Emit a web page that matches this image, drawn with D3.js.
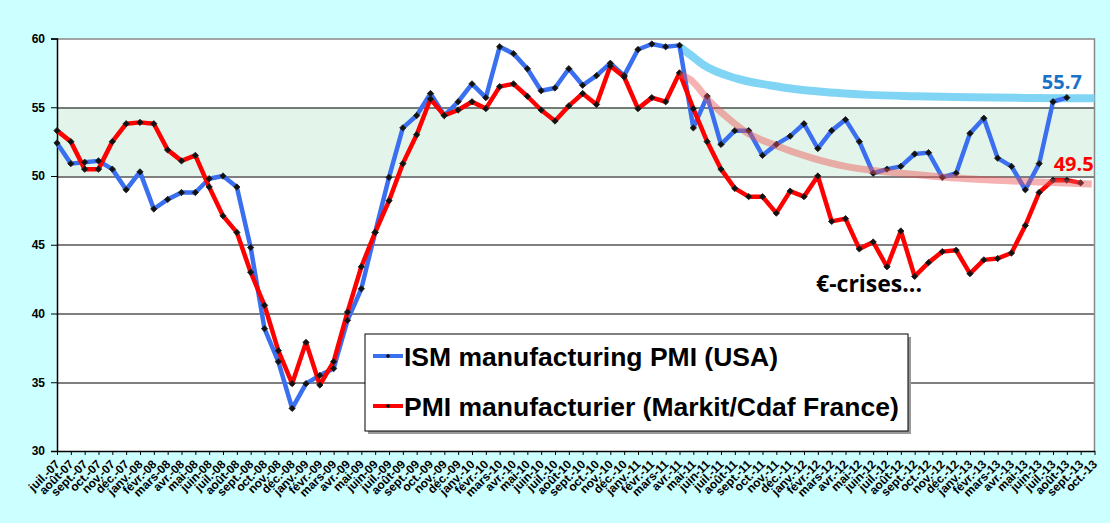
<!DOCTYPE html>
<html>
<head>
<meta charset="utf-8">
<script src="https://cdnjs.cloudflare.com/ajax/libs/d3/7.8.5/d3.min.js"></script>
<style>
  html, body { margin: 0; padding: 0; background: #ccffff; }
  svg { display: block; }
</style>
</head>
<body>
<div id="chart"></div>
<script>
// month labels, juil.-07 .. oct.-13
var monthNames = ["janv.", "févr.", "mars", "avr.", "mai", "juin",
                  "juil.", "août", "sept.", "oct.", "nov.", "déc."];
var months = [];
for (var k = 0; k < 76; k++) {
  var m = (6 + k) % 12, yr = 7 + Math.floor((6 + k) / 12);
  months.push(monthNames[m] + "-" + (yr < 10 ? "0" + yr : yr));
}

// ISM manufacturing PMI (USA), juil.-07 .. août-13
var ism = [52.4, 50.9, 51.0, 51.1, 50.5, 49.0, 50.3, 47.6, 48.3, 48.8, 48.8, 49.8,
           50.0, 49.2, 44.8, 38.9, 36.5, 33.1, 34.9, 35.5, 36.0, 39.5, 41.8, 45.9,
           49.9, 53.5, 54.4, 56.0, 54.4, 55.4, 56.7, 55.7, 59.4, 58.9, 57.8, 56.2,
           56.4, 57.8, 56.6, 57.3, 58.2, 57.3, 59.2, 59.6, 59.4, 59.5, 53.5, 55.8,
           52.3, 53.3, 53.3, 51.5, 52.3, 52.9, 53.8, 52.0, 53.3, 54.1, 52.5, 50.2,
           50.5, 50.7, 51.6, 51.7, 49.9, 50.2, 53.1, 54.2, 51.3, 50.7, 49.0, 50.9,
           55.4, 55.7];

// PMI manufacturier (Markit/Cdaf France), juil.-07 .. sept.-13
var pmiFr = [53.3, 52.5, 50.5, 50.5, 52.5, 53.8, 53.9, 53.8, 51.9, 51.1, 51.5, 49.2,
             47.1, 45.9, 43.0, 40.6, 37.3, 34.9, 37.9, 34.8, 36.5, 40.1, 43.4, 45.9,
             48.2, 50.9, 53.0, 55.6, 54.4, 54.8, 55.4, 54.9, 56.5, 56.7, 55.8, 54.8,
             54.0, 55.1, 56.0, 55.2, 58.0, 57.2, 54.9, 55.7, 55.4, 57.5, 54.9, 52.5,
             50.5, 49.1, 48.5, 48.5, 47.3, 48.9, 48.5, 50.0, 46.7, 46.9, 44.7, 45.2,
             43.4, 46.0, 42.7, 43.7, 44.5, 44.6, 42.9, 43.9, 44.0, 44.4, 46.4, 48.8,
             49.7, 49.7, 49.5];

// hand drawn trend curves (month index, value)
var trendUsIdx  = [45, 45.8, 46.7, 49.1, 51.5, 53.9, 56.3, 58.7, 62, 66, 70, 75];
var trendUsVal  = [59.4, 58.8, 58.1, 57.1, 56.6, 56.25, 56.05, 55.9, 55.8, 55.72, 55.68, 55.65];
var trendFrIdx  = [45, 45.8, 47.2, 48.4, 49.8, 52, 54.6, 57, 59, 61, 65, 70, 74.8];
var trendFrVal  = [57.4, 57.0, 55.4, 54.3, 53.2, 52.2, 51.3, 50.7, 50.4, 50.2, 49.85, 49.6, 49.42];

var yTicks = [30, 35, 40, 45, 50, 55, 60];
var band = [50, 55];
var seriesNames = ["ISM manufacturing PMI (USA)", "PMI manufacturier (Markit/Cdaf France)"];

var W = 1110, H = 523;
var margin = {top: 38.5, right: 15.5, bottom: 72, left: 57};
var width = W - margin.left - margin.right,
    height = H - margin.top - margin.bottom;

var col_us = "#3a6ff0", col_fr = "#ff0000",
    col_trend_us = "#80d5f5", col_trend_fr = "rgba(236,84,84,0.45)";

var svg = d3.select("#chart").append("svg")
    .attr("width", W).attr("height", H);
svg.append("rect").attr("width", W).attr("height", H).attr("fill", "#ccffff");

var g = svg.append("g").attr("transform", "translate(" + margin.left + "," + margin.top + ")");

var x = d3.scaleLinear().domain([0, months.length - 1]).range([0, width]);
var y = d3.scaleLinear().domain([30, 60]).range([height, 0]);

// plot area
g.append("rect").attr("width", width).attr("height", height).attr("fill", "#ffffff");
g.append("rect")
    .attr("x", 0).attr("width", width)
    .attr("y", y(band[1])).attr("height", y(band[0]) - y(band[1]))
    .attr("fill", "#e3f5ea");

// grid
g.selectAll("line.grid")
    .data(yTicks.filter(function(d){ return d > 30 && d < 60; }))
  .enter().append("line")
    .attr("class", "grid")
    .attr("x1", 0).attr("x2", width)
    .attr("y1", function(d){ return Math.round(y(d)) + 0.5; })
    .attr("y2", function(d){ return Math.round(y(d)) + 0.5; })
    .attr("stroke", "#000").attr("stroke-width", 1.2);

// frame top + right (grey)
g.append("path")
    .attr("d", "M0,0.5H" + width + "V" + height)
    .attr("fill", "none").attr("stroke", "#888").attr("stroke-width", 1.5);

// axes
var yAxis = d3.axisLeft(y).tickValues(yTicks).tickSize(6).tickPadding(6);
var gy = g.append("g").call(yAxis);
gy.select(".domain").attr("stroke", "#000").attr("stroke-width", 1.5);
gy.selectAll(".tick line").attr("stroke", "#000");
gy.selectAll("text")
    .style("font-family", "'Liberation Sans', Arial, sans-serif")
    .style("font-size", "12px").style("font-weight", "bold").attr("fill", "#000");

var xAxis = d3.axisBottom(x).tickValues(d3.range(months.length))
    .tickFormat(function(i){ return months[i]; }).tickSize(4).tickSizeOuter(0);
var gx = g.append("g").attr("transform", "translate(0," + height + ")").call(xAxis);
gx.select(".domain").attr("stroke", "#000").attr("stroke-width", 1.5);
gx.selectAll(".tick line").attr("stroke", "#000");
gx.selectAll("text")
    .style("font-family", "'Liberation Sans', Arial, sans-serif")
    .style("font-size", "12px").style("font-weight", "bold").attr("fill", "#000")
    .attr("text-anchor", "end")
    .attr("x", 0).attr("y", 0).attr("dx", 0).attr("dy", 0)
    .attr("transform", "translate(3,14) rotate(-45)");

// trend curve US (under the data)
var trendLine = d3.line()
    .x(function(d){ return x(d[0]); })
    .y(function(d){ return y(d[1]); })
    .curve(d3.curveMonotoneX);

g.append("path")
    .datum(d3.zip(trendUsIdx, trendUsVal))
    .attr("d", trendLine)
    .attr("fill", "none").attr("stroke", col_trend_us)
    .attr("stroke-width", 8).attr("stroke-linecap", "butt");

// series
var line = d3.line()
    .x(function(d, i){ return x(i); })
    .y(function(d){ return y(d); });

var diamond = d3.symbol().type(d3.symbolSquare).size(20);

[[ism, col_us], [pmiFr, col_fr]].forEach(function(s) {
  g.append("path")
      .datum(s[0])
      .attr("d", line)
      .attr("fill", "none").attr("stroke", s[1])
      .attr("stroke-width", 4.5).attr("stroke-linejoin", "round");
});

[ism, pmiFr].forEach(function(s) {
  g.selectAll(null)
      .data(s)
    .enter().append("path")
      .attr("d", diamond)
      .attr("transform", function(d, i){ return "translate(" + x(i) + "," + y(d) + ") rotate(45)"; })
      .attr("fill", "#111").attr("stroke", "#222").attr("stroke-width", 0.8);
});

// trend curve France (over the data, translucent)
g.append("path")
    .datum(d3.zip(trendFrIdx, trendFrVal))
    .attr("d", trendLine)
    .attr("fill", "none").attr("stroke", col_trend_fr)
    .attr("stroke-width", 7).attr("stroke-linecap", "butt");

// annotations
var lastUs = ism.length - 1, lastFr = pmiFr.length - 1;
g.append("text")
    .attr("x", x(lastUs) - 5).attr("y", y(ism[lastUs]) - 9)
    .attr("text-anchor", "middle")
    .style("font-family", "'Open Sans', sans-serif").style("font-size", "20px")
    .style("font-weight", "bold").attr("fill", "#1a72c6")
    .text(ism[lastUs].toFixed(1));
g.append("text")
    .attr("x", x(lastFr) - 7).attr("y", y(pmiFr[lastFr]) - 12)
    .attr("text-anchor", "middle")
    .style("font-family", "'Open Sans', sans-serif").style("font-size", "20px")
    .style("font-weight", "bold").attr("fill", "#ff0000")
    .text(pmiFr[lastFr].toFixed(1));
g.append("text")
    .attr("x", 816 - margin.left).attr("y", 292 - margin.top)
    .style("font-family", "'Open Sans', sans-serif").style("font-size", "23px")
    .style("font-weight", "bold").attr("fill", "#000")
    .text("€-crises...");

// legend
var lg = svg.append("g").attr("transform", "translate(365,334)");
lg.append("rect").attr("x", 3).attr("y", 3).attr("width", 543).attr("height", 97).attr("fill", "#999");
lg.append("rect").attr("width", 543).attr("height", 97)
    .attr("fill", "#fff").attr("stroke", "#000").attr("stroke-width", 1);

var items = lg.selectAll("g.item")
    .data(seriesNames)
  .enter().append("g")
    .attr("class", "item")
    .attr("transform", function(d, i){ return "translate(0," + (22 + i * 50) + ")"; });
items.append("line")
    .attr("x1", 8).attr("x2", 38)
    .attr("stroke", function(d, i){ return i ? col_fr : col_us; })
    .attr("stroke-width", 4);
items.append("path")
    .attr("d", d3.symbol().type(d3.symbolSquare).size(10))
    .attr("transform", "translate(23,0) rotate(45)")
    .attr("fill", "#111");
items.append("text")
    .attr("x", 39).attr("y", 9.5)
    .style("font-family", "'Liberation Sans', Arial, sans-serif")
    .style("font-size", "26.5px").style("font-weight", "bold").attr("fill", "#000")
    .text(function(d){ return d; });
</script>
</body>
</html>
